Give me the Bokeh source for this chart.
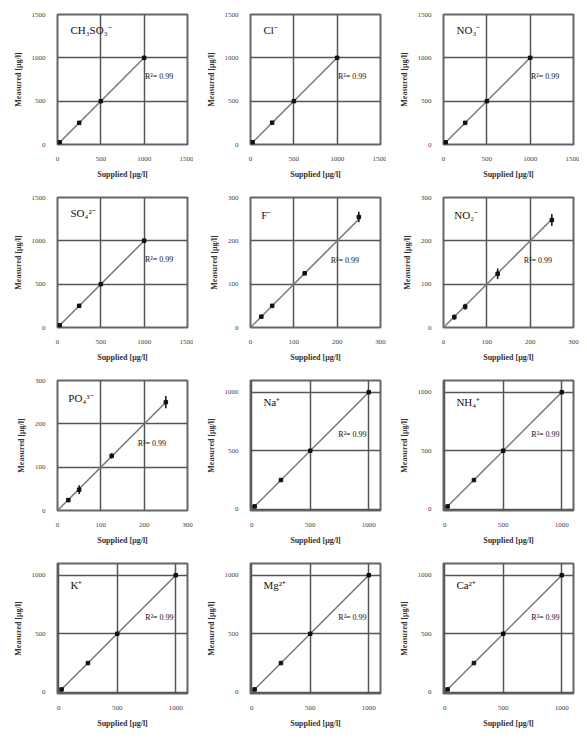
from bokeh.plotting import figure
from bokeh.layouts import gridplot
from bokeh.models import FixedTicker, Range1d
from bokeh.core.properties import value
from bokeh.embed import file_html
from bokeh.resources import INLINE

# ---- data ----
ions = ["CH₃SO₃⁻", "Cl⁻", "NO₃⁻", "SO₄²⁻", "F⁻", "NO₂⁻", "PO₄³⁻", "Na⁺", "NH₄⁺", "K⁺", "Mg²⁺", "Ca²⁺"]
r2_labels = ["R²= 0.99"] * 12

supplied_big = [25, 250, 500, 1000]
supplied_small = [25, 50, 125, 250]

measured = {
    "CH₃SO₃⁻": [25, 250, 500, 1000],
    "Cl⁻": [25, 252, 500, 1000],
    "NO₃⁻": [25, 250, 500, 1000],
    "SO₄²⁻": [25, 250, 500, 1002],
    "F⁻": [25, 50, 125, 255],
    "NO₂⁻": [24, 48, 124, 248],
    "PO₄³⁻": [24, 48, 126, 250],
    "Na⁺": [25, 250, 500, 1000],
    "NH₄⁺": [25, 250, 500, 1000],
    "K⁺": [25, 250, 500, 1000],
    "Mg²⁺": [25, 250, 500, 1000],
    "Ca²⁺": [25, 250, 500, 1000],
}
errors = {
    "F⁻": [2, 3, 4, 12],
    "NO₂⁻": [6, 7, 12, 14],
    "PO₄³⁻": [4, 10, 6, 14],
}
ticks_1500 = [0, 500, 1000, 1500]
ticks_300 = [0, 100, 200, 300]
ticks_1000 = [0, 500, 1000]

kind = {
    "CH₃SO₃⁻": "big", "Cl⁻": "big", "NO₃⁻": "big", "SO₄²⁻": "big",
    "F⁻": "small", "NO₂⁻": "small", "PO₄³⁻": "small",
    "Na⁺": "cat", "NH₄⁺": "cat", "K⁺": "cat", "Mg²⁺": "cat", "Ca²⁺": "cat",
}

SERIF = "Liberation Serif"
GRID = "#555555"


def make_panel(ion, r2):
    k = kind[ion]
    if k == "big":
        xs, rng, ticks = supplied_big, (0, 1500), ticks_1500
        lab_pos, r2_pos, line_end = (150, 1320), (1010, 780), 1000
    elif k == "small":
        xs, rng, ticks = supplied_small, (0, 300), ticks_300
        lab_pos, r2_pos, line_end = (25, 260), (185, 155), 250
    else:
        xs, rng, ticks = supplied_big, (-10, 1100), ticks_1000
        lab_pos, r2_pos, line_end = (100, 920), (740, 640), 1000
    ys = measured[ion]
    p = figure(width=193, height=183, output_backend="svg", toolbar_location=None,
               x_range=Range1d(*rng), y_range=Range1d(*rng),
               min_border_left=57, min_border_right=6, min_border_top=14, min_border_bottom=39)
    p.outline_line_color = "#666666"
    p.outline_line_width = 2
    for ax in (p.xaxis[0], p.yaxis[0]):
        ax.ticker = FixedTicker(ticks=ticks)
        ax.axis_line_color = None
        ax.major_tick_line_color = None
        ax.minor_tick_line_color = None
        ax.major_label_text_font = SERIF
        ax.major_label_text_font_size = "7px"
        ax.major_label_text_color = "#444444"
        ax.major_label_standoff = 6
        ax.axis_label_text_font = SERIF
        ax.axis_label_text_font_size = "8px"
        ax.axis_label_text_font_style = "bold"
        ax.axis_label_text_color = "#333333"
        ax.axis_label_standoff = 6
    p.xaxis.axis_label = "Supplied [μg/l]"
    p.yaxis.axis_label = "Measured [μg/l]"
    p.grid.ticker = FixedTicker(ticks=ticks)
    p.grid.grid_line_color = GRID
    p.grid.grid_line_width = 1.5
    p.line([0, line_end], [0, line_end], line_color="#777777", line_width=1.5)
    if ion in errors:
        e = errors[ion]
        p.segment(x0=xs, y0=[y - d for y, d in zip(ys, e)], x1=xs, y1=[y + d for y, d in zip(ys, e)],
                  line_color="#111111", line_width=1.5)
    p.scatter(xs, ys, size=3.5, marker="square", color="#111111")
    p.text(x=[lab_pos[0]], y=[lab_pos[1]], text=[ion], text_font=value(SERIF),
           text_font_size="11px", text_baseline="middle", text_color="#111111")
    p.text(x=[r2_pos[0]], y=[r2_pos[1]], text=[r2], text_font=value(SERIF),
           text_font_size="8px", text_baseline="middle", text_color="#111111")
    return p


panels = [make_panel(ion, r2) for ion, r2 in zip(ions, r2_labels)]
rows = [panels[i:i + 3] for i in range(0, 12, 3)]
grid = gridplot(rows, toolbar_location=None)

open("out.html", "w").write(file_html(grid, INLINE))
